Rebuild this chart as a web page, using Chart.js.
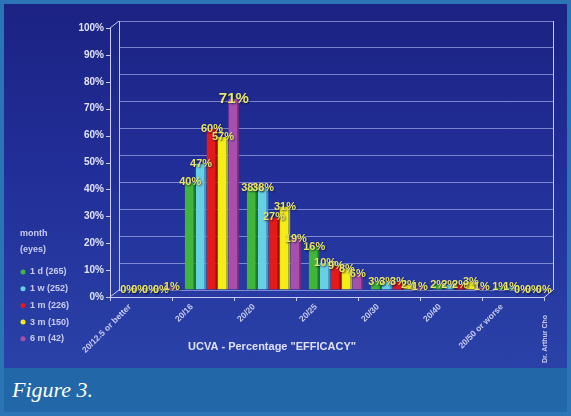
<!DOCTYPE html>
<html>
<head>
<meta charset="utf-8">
<script src="https://cdn.jsdelivr.net/npm/chart.js@4.4.0/dist/chart.umd.min.js"></script>
<style>
  html, body { margin: 0; padding: 0; }
  #frame { position: relative; width: 571px; height: 416px; background: #2b74b6; overflow: hidden; }
  #slide { position: absolute; left: 4px; top: 4px; width: 563px; height: 364px;
           background: linear-gradient(180deg, #1b2282 0%, #222e98 45%, #2a42a8 100%); }
  #chart { position: absolute; left: 0; top: 0; z-index: 1; }
  #caption { position: absolute; left: 4px; top: 368px; width: 563px; height: 44px; z-index: 2;
             background: #2267a7; color: #fff; font: italic 22px "Liberation Serif", serif;
             line-height: 44px; padding-left: 8px; box-sizing: border-box; }
</style>
</head>
<body>
<div id="frame">
  <div id="slide"></div>
  <canvas id="chart" width="571" height="416"></canvas>
  <div id="caption">Figure 3.</div>
</div>
<script>
// visual acuity buckets after surgery
const categories = ['20/12.5 or better', '20/16', '20/20', '20/25', '20/30', '20/40', '20/50 or worse'];

// follow-up visits, with eye counts
const visits = ['1 d (265)', '1 w (252)', '1 m (226)', '3 m (150)', '6 m (42)'];

// percent of eyes in each bucket, per visit
const day1   = [0, 40, 38, 16, 3, 2, 1];
const week1  = [0, 47, 38, 10, 3, 2, 1];
const month1 = [0, 60, 27,  9, 3, 2, 0];
const month3 = [0, 57, 31,  8, 2, 3, 0];
const month6 = [1, 71, 19,  6, 1, 1, 0];

const yTicks = [0, 10, 20, 30, 40, 50, 60, 70, 80, 90, 100];

const fills  = ['#3fb63a', '#68d0e4', '#e3191c', '#f4ee16', '#a84fae'];
const sides  = ['#1f7a25', '#3a98b0', '#9a0f12', '#b8b000', '#6e2f78'];

const ink = '#c9cbf0';
const gridColor = 'rgba(185,190,245,0.6)';
const sans = '"Liberation Sans", Arial, sans-serif';

// the "3D" front edge sits down-left of the back wall
const depthX = -9, depthY = 7;

const frontAxes = {
  id: 'frontAxes',
  afterDraw(chart) {
    const c = chart.ctx, a = chart.chartArea;
    const y = chart.scales.y;
    const fl = a.left + depthX, fb = a.bottom + depthY, fr = a.right + depthX;
    c.save();
    c.strokeStyle = ink;
    c.lineWidth = 1;
    c.beginPath();
    // back wall right edge
    c.moveTo(a.right + 0.5, a.top); c.lineTo(a.right + 0.5, a.bottom);
    // front y axis and floor edge
    c.moveTo(fl + 0.5, a.top + depthY); c.lineTo(fl + 0.5, fb + 0.5); c.lineTo(fr, fb + 0.5);
    c.lineTo(a.right, a.bottom);
    c.moveTo(fl, a.top + depthY); c.lineTo(a.left, a.top);
    c.moveTo(fl, fb); c.lineTo(a.left, a.bottom);
    yTicks.forEach(v => {
      const ty = Math.round(y.getPixelForValue(v) + depthY) + 0.5;
      c.moveTo(fl - 4, ty); c.lineTo(fl, ty);
    });
    const step = (a.right - a.left) / categories.length;
    for (let k = 0; k <= categories.length; k++) {
      const tx = Math.round(fl + k * step) + 0.5;
      c.moveTo(tx, fb); c.lineTo(tx, fb + 4);
    }
    c.stroke();
    c.restore();
  }
};

const barValues = {
  id: 'barValues',
  afterDatasetsDraw(chart) {
    const c = chart.ctx;
    const top = Math.max(...chart.data.datasets.flatMap(d => d.data));
    c.save();
    c.textAlign = 'center';
    c.textBaseline = 'middle';
    c.fillStyle = '#e9e46c';
    c.shadowColor = 'rgba(10,20,40,0.75)';
    c.shadowBlur = 2;
    c.shadowOffsetX = 1;
    c.shadowOffsetY = 1;
    chart.data.datasets.forEach((ds, i) => {
      chart.getDatasetMeta(i).data.forEach((bar, j) => {
        const v = ds.data[j];
        const size = v === top ? 15 : 11;
        c.font = 'bold ' + size + 'px ' + sans;
        c.fillText(v + '%', bar.x, bar.y);
      });
    });
    c.restore();
  }
};

const sideTexts = {
  id: 'sideTexts',
  afterDraw(chart) {
    const c = chart.ctx;
    c.save();
    c.fillStyle = ink;
    c.textBaseline = 'middle';
    c.textAlign = 'left';
    c.font = 'bold 9px ' + sans;
    c.fillText('month', 20, 234);
    c.fillText('(eyes)', 20, 250);
    chart.data.datasets.forEach((ds, i) => {
      const ly = 272 + i * 16.7;
      c.fillStyle = fills[i];
      c.beginPath();
      c.arc(23, ly, 2.5, 0, Math.PI * 2);
      c.fill();
      c.fillStyle = ink;
      c.fillText(ds.label, 30, ly);
    });

    c.textAlign = 'center';
    c.fillStyle = '#dfe0f8';
    c.font = 'bold 11px ' + sans;
    c.fillText('UCVA - Percentage "EFFICACY"', 272, 347);

    c.translate(545, 339);
    c.rotate(-Math.PI / 2);
    c.fillStyle = ink;
    c.font = 'bold 7px ' + sans;
    c.fillText('Dr. Arthur Cho', 0, 0);
    c.restore();
  }
};

const series = [day1, week1, month1, month3, month6];

new Chart(document.getElementById('chart'), {
  type: 'bar',
  data: {
    labels: categories,
    datasets: series.map((data, i) => ({
      label: visits[i],
      data: data,
      backgroundColor: fills[i],
      borderColor: sides[i],
      borderWidth: { top: 0, right: 2, bottom: 0, left: 0 },
      categoryPercentage: 0.88,
      barPercentage: 1
    }))
  },
  options: {
    responsive: false,
    animation: false,
    devicePixelRatio: 1,
    layout: { padding: { top: 17, right: 18, left: 0, bottom: 0 } },
    plugins: { legend: { display: false }, tooltip: { enabled: false } },
    scales: {
      x: {
        afterFit(s) { s.height = 126; },
        grid: { display: false, drawTicks: false },
        border: { display: false },
        ticks: {
          color: ink,
          font: { family: sans, size: 8.5, weight: 'bold' },
          minRotation: 45, maxRotation: 45, autoSkip: false,
          padding: 12, labelOffset: -20
        }
      },
      y: {
        min: 0, max: 100,
        afterFit(s) { s.width = 119; },
        afterBuildTicks(s) { s.ticks = yTicks.map(v => ({ value: v })); },
        grid: { color: gridColor, drawTicks: false },
        border: { display: true, color: ink },
        ticks: {
          color: '#e2e3f8',
          font: { family: sans, size: 10, weight: 'bold' },
          padding: 15, labelOffset: depthY,
          callback: v => v + '%'
        }
      }
    }
  },
  plugins: [frontAxes, barValues, sideTexts]
});
</script>
</body>
</html>
